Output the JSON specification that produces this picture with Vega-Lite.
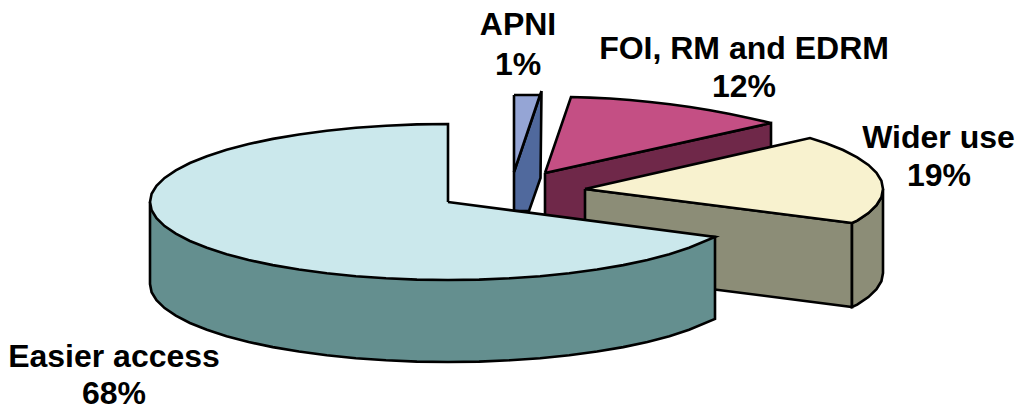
{
  "$schema": "https://vega.github.io/schema/vega-lite/v6.json",
  "width": 1019,
  "height": 408,
  "padding": 0,
  "autosize": {"type": "none"},
  "background": "white",
  "view": {"stroke": null},
  "datasets": {
    "faces": [
      {"piece":"FOI side","seq":1,"x":545,"y":173},{"piece":"FOI side","seq":2,"x":771,"y":123},{"piece":"FOI side","seq":3,"x":771,"y":205},{"piece":"FOI side","seq":4,"x":545,"y":255},{"piece":"FOI side","seq":5,"x":545,"y":173},
      {"piece":"FOI top","seq":1,"x":545,"y":173},{"piece":"FOI top","seq":2,"x":571,"y":97},{"piece":"FOI top","seq":3,"x":590,"y":97.6},{"piece":"FOI top","seq":4,"x":610,"y":98.5},{"piece":"FOI top","seq":5,"x":630,"y":100},{"piece":"FOI top","seq":6,"x":650,"y":102},{"piece":"FOI top","seq":7,"x":670,"y":104.3},{"piece":"FOI top","seq":8,"x":690,"y":107},{"piece":"FOI top","seq":9,"x":710,"y":110.2},{"piece":"FOI top","seq":10,"x":730,"y":114},{"piece":"FOI top","seq":11,"x":750,"y":118.2},{"piece":"FOI top","seq":12,"x":771,"y":123},{"piece":"FOI top","seq":13,"x":545,"y":173},

      {"piece":"APNI side","seq":1,"x":541.5,"y":91},{"piece":"APNI side","seq":2,"x":540.5,"y":178},{"piece":"APNI side","seq":3,"x":529,"y":211},{"piece":"APNI side","seq":4,"x":514,"y":211},{"piece":"APNI side","seq":5,"x":514,"y":172},{"piece":"APNI side","seq":6,"x":541.5,"y":91},
      {"piece":"APNI top","seq":1,"x":514,"y":95},{"piece":"APNI top","seq":2,"x":540,"y":95},{"piece":"APNI top","seq":3,"x":514,"y":172},{"piece":"APNI top","seq":4,"x":514,"y":95},

      {"piece":"Wider front","seq":1,"x":585,"y":189},{"piece":"Wider front","seq":2,"x":852,"y":223},{"piece":"Wider front","seq":3,"x":852,"y":307},{"piece":"Wider front","seq":4,"x":585,"y":273},{"piece":"Wider front","seq":5,"x":585,"y":189},
      {"piece":"Wider rim","seq":1,"x":852,"y":223},{"piece":"Wider rim","seq":2,"x":857.2,"y":220.7},{"piece":"Wider rim","seq":3,"x":868.4,"y":213.1},{"piece":"Wider rim","seq":4,"x":876.5,"y":205.2},{"piece":"Wider rim","seq":5,"x":881.4,"y":197.2},{"piece":"Wider rim","seq":6,"x":883,"y":189},{"piece":"Wider rim","seq":7,"x":883,"y":273},{"piece":"Wider rim","seq":8,"x":881.4,"y":281.2},{"piece":"Wider rim","seq":9,"x":876.5,"y":289.2},{"piece":"Wider rim","seq":10,"x":868.4,"y":297.1},{"piece":"Wider rim","seq":11,"x":857.2,"y":304.7},{"piece":"Wider rim","seq":12,"x":852,"y":307},{"piece":"Wider rim","seq":13,"x":852,"y":223},
      {"piece":"Wider top","seq":1,"x":585,"y":189},{"piece":"Wider top","seq":2,"x":810,"y":138},{"piece":"Wider top","seq":3,"x":826.1,"y":143.2},{"piece":"Wider top","seq":4,"x":843.1,"y":150},{"piece":"Wider top","seq":5,"x":857.2,"y":157.3},{"piece":"Wider top","seq":6,"x":868.4,"y":164.9},{"piece":"Wider top","seq":7,"x":876.5,"y":172.8},{"piece":"Wider top","seq":8,"x":881.4,"y":180.8},{"piece":"Wider top","seq":9,"x":883,"y":189},{"piece":"Wider top","seq":10,"x":881.4,"y":197.2},{"piece":"Wider top","seq":11,"x":876.5,"y":205.2},{"piece":"Wider top","seq":12,"x":868.4,"y":213.1},{"piece":"Wider top","seq":13,"x":857.2,"y":220.7},{"piece":"Wider top","seq":14,"x":852,"y":223},{"piece":"Wider top","seq":15,"x":585,"y":189},

      {"piece":"Easier side","seq":1,"x":150,"y":202},{"piece":"Easier side","seq":2,"x":150,"y":284},{"piece":"Easier side","seq":3,"x":151.6,"y":292.2},{"piece":"Easier side","seq":4,"x":156.5,"y":300.2},{"piece":"Easier side","seq":5,"x":164.6,"y":308.1},{"piece":"Easier side","seq":6,"x":175.8,"y":315.7},{"piece":"Easier side","seq":7,"x":189.9,"y":323},{"piece":"Easier side","seq":8,"x":206.9,"y":329.8},{"piece":"Easier side","seq":9,"x":226.6,"y":336.2},{"piece":"Easier side","seq":10,"x":248.6,"y":342},{"piece":"Easier side","seq":11,"x":272.8,"y":347.1},{"piece":"Easier side","seq":12,"x":299,"y":351.5},{"piece":"Easier side","seq":13,"x":326.8,"y":355.3},{"piece":"Easier side","seq":14,"x":355.9,"y":358.2},{"piece":"Easier side","seq":15,"x":386,"y":360.3},{"piece":"Easier side","seq":16,"x":416.9,"y":361.6},{"piece":"Easier side","seq":17,"x":448,"y":362},{"piece":"Easier side","seq":18,"x":479.1,"y":361.6},{"piece":"Easier side","seq":19,"x":510,"y":360.3},{"piece":"Easier side","seq":20,"x":540.1,"y":358.2},{"piece":"Easier side","seq":21,"x":569.2,"y":355.3},{"piece":"Easier side","seq":22,"x":597,"y":351.5},{"piece":"Easier side","seq":23,"x":623.2,"y":347.1},{"piece":"Easier side","seq":24,"x":647.4,"y":342},{"piece":"Easier side","seq":25,"x":669.4,"y":336.2},{"piece":"Easier side","seq":26,"x":689.1,"y":329.8},{"piece":"Easier side","seq":27,"x":715,"y":319},{"piece":"Easier side","seq":28,"x":715,"y":237},{"piece":"Easier side","seq":29,"x":150,"y":202},

      {"piece":"Easier top","seq":1,"x":448,"y":202},{"piece":"Easier top","seq":2,"x":448,"y":124},{"piece":"Easier top","seq":3,"x":416.9,"y":124.4},{"piece":"Easier top","seq":4,"x":386,"y":125.7},{"piece":"Easier top","seq":5,"x":355.9,"y":127.8},{"piece":"Easier top","seq":6,"x":326.8,"y":130.7},{"piece":"Easier top","seq":7,"x":299,"y":134.5},{"piece":"Easier top","seq":8,"x":272.8,"y":138.9},{"piece":"Easier top","seq":9,"x":248.6,"y":144},{"piece":"Easier top","seq":10,"x":226.6,"y":149.8},{"piece":"Easier top","seq":11,"x":206.9,"y":156.2},{"piece":"Easier top","seq":12,"x":189.9,"y":163},{"piece":"Easier top","seq":13,"x":175.8,"y":170.3},{"piece":"Easier top","seq":14,"x":164.6,"y":177.9},{"piece":"Easier top","seq":15,"x":156.5,"y":185.8},{"piece":"Easier top","seq":16,"x":151.6,"y":193.8},{"piece":"Easier top","seq":17,"x":150,"y":202},{"piece":"Easier top","seq":18,"x":151.6,"y":210.2},{"piece":"Easier top","seq":19,"x":156.5,"y":218.2},{"piece":"Easier top","seq":20,"x":164.6,"y":226.1},{"piece":"Easier top","seq":21,"x":175.8,"y":233.7},{"piece":"Easier top","seq":22,"x":189.9,"y":241},{"piece":"Easier top","seq":23,"x":206.9,"y":247.8},{"piece":"Easier top","seq":24,"x":226.6,"y":254.2},{"piece":"Easier top","seq":25,"x":248.6,"y":260},{"piece":"Easier top","seq":26,"x":272.8,"y":265.1},{"piece":"Easier top","seq":27,"x":299,"y":269.5},{"piece":"Easier top","seq":28,"x":326.8,"y":273.3},{"piece":"Easier top","seq":29,"x":355.9,"y":276.2},{"piece":"Easier top","seq":30,"x":386,"y":278.3},{"piece":"Easier top","seq":31,"x":416.9,"y":279.6},{"piece":"Easier top","seq":32,"x":448,"y":280},{"piece":"Easier top","seq":33,"x":479.1,"y":279.6},{"piece":"Easier top","seq":34,"x":510,"y":278.3},{"piece":"Easier top","seq":35,"x":540.1,"y":276.2},{"piece":"Easier top","seq":36,"x":569.2,"y":273.3},{"piece":"Easier top","seq":37,"x":597,"y":269.5},{"piece":"Easier top","seq":38,"x":623.2,"y":265.1},{"piece":"Easier top","seq":39,"x":647.4,"y":260},{"piece":"Easier top","seq":40,"x":669.4,"y":254.2},{"piece":"Easier top","seq":41,"x":689.1,"y":247.8},{"piece":"Easier top","seq":42,"x":715,"y":237},{"piece":"Easier top","seq":43,"x":448,"y":202}
    ],
    "labels": [
      {"text":"APNI","x":518,"y":25},{"text":"1%","x":518,"y":65},
      {"text":"FOI, RM and EDRM","x":744,"y":49},{"text":"12%","x":744,"y":87},
      {"text":"Wider use","x":938.5,"y":138},{"text":"19%","x":939,"y":176},
      {"text":"Easier access","x":114,"y":357},{"text":"68%","x":114,"y":394}
    ]
  },
  "layer": [
    {
      "data": {"name": "faces"},
      "mark": {"type": "line", "stroke": "black", "strokeWidth": 2.6, "strokeJoin": "miter"},
      "encoding": {
        "x": {"field": "x", "type": "quantitative", "axis": null, "scale": {"domain": [0, 1019]}},
        "y": {"field": "y", "type": "quantitative", "axis": null, "scale": {"domain": [408, 0]}},
        "order": {"field": "seq", "type": "ordinal"},
        "fill": {
          "field": "piece", "type": "nominal", "legend": null,
          "scale": {
            "domain": ["FOI side","FOI top","APNI side","APNI top","Wider front","Wider rim","Wider top","Easier side","Easier top"],
            "range": ["#6F2849","#C44F84","#50699D","#95A5D5","#8C8D77","#8C8D77","#F8F2CF","#648F8F","#CBE8EC"]
          }
        }
      }
    },
    {
      "data": {"name": "labels"},
      "mark": {"type": "text", "font": "Liberation Sans", "fontWeight": "bold", "fontSize": 32, "align": "center", "baseline": "middle", "color": "black"},
      "encoding": {
        "x": {"field": "x", "type": "quantitative", "axis": null, "scale": {"domain": [0, 1019]}},
        "y": {"field": "y", "type": "quantitative", "axis": null, "scale": {"domain": [408, 0]}},
        "text": {"field": "text"}
      }
    }
  ]
}
